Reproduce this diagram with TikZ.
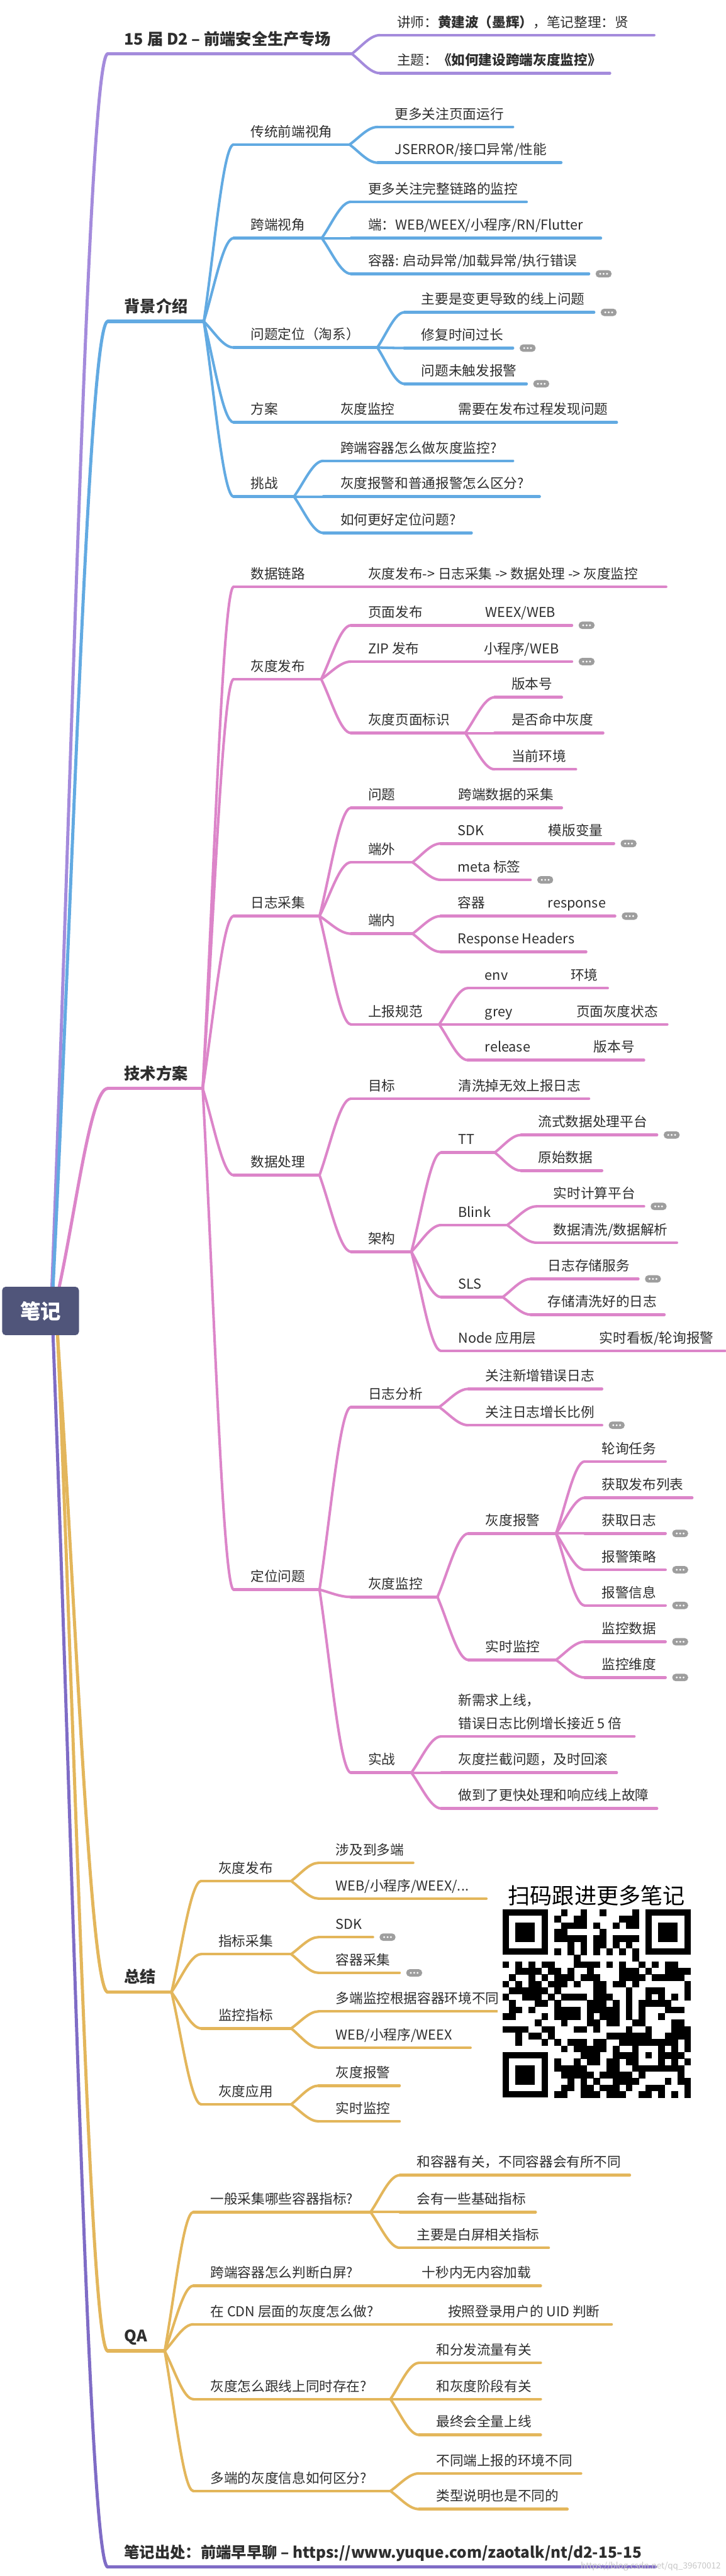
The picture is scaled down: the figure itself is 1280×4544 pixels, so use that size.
\documentclass[tikz,border=0pt]{standalone}
\usepackage{fontspec}
\newfontfamily\cjk{Noto Sans CJK SC}
\usetikzlibrary{calc}
\definecolor{cPur}{HTML}{A48BDC}
\definecolor{cBlu}{HTML}{62AAE2}
\definecolor{cPnk}{HTML}{DC85C9}
\definecolor{cYel}{HTML}{E3B65B}
\definecolor{cFoot}{HTML}{7F6CC6}
\definecolor{cRoot}{HTML}{50557A}
\definecolor{cTxt}{HTML}{2E2E2E}
\definecolor{cBadge}{HTML}{9E9E9E}
\tikzset{
 tp/.style={anchor=south west, inner xsep=0pt, inner ysep=8pt, text depth=6pt, text height=18pt, font=\cjk\fontsize{24}{41}\selectfont, text=cTxt},
 tpL/.style={tp, inner ysep=9pt, text depth=7pt, text height=21pt, font=\cjk\bfseries\fontsize{28}{34}\selectfont},
 ul/.style={line width=5pt, line cap=round},
 ulL/.style={line width=6pt, line cap=round},
 cn/.style={line width=4.5pt, line cap=round},
 badge/.style={fill=cBadge, rounded corners=6pt, minimum width=28pt, minimum height=13pt, inner sep=0pt},
}
% name x0 x1 y color text
\newcommand\tpc[6]{\node[tp] (#1) at (#2,#4) {\makebox[\dimexpr #3pt-#2pt\relax][l]{\hspace*{30pt}#6}};
 \draw[ul,#5] (#1.south west) -- (#1.south east);}
\newcommand\tpA[6]{\node[tpL] (#1) at (#2,#4) {\makebox[\dimexpr #3pt-#2pt\relax][l]{\hspace*{29pt}#6}};
 \draw[ulL,#5] (#1.south west) -- (#1.south east);}
\newcommand\cnx[3]{\draw[cn,#1] let \p1=(#2.south east),\p2=(#3.south west) in (\p1) .. controls ({\x1+0.35*(\x2-\x1)},{\y1+0.4*(\y2-\y1)}) and ({\x2-0.35*(\x2-\x1)},\y2) .. (\p2);}
\newcommand\rcx[3]{\draw[cn,line width=5.5pt,#1] let \p1=(#2),\p2=(#3.south west) in (\p1) .. controls ({\x1+0.35*(\x2-\x1)},{\y1+0.4*(\y2-\y1)}) and ({\x2-0.35*(\x2-\x1)},\y2) .. (\p2);}
\newcommand\bdg[1]{\node[badge] (#1-b) at ([xshift=26pt]#1.south east) {};
 \foreach \d in {-6,0,6} \fill[white] ([xshift=\d*1pt]#1-b.center) circle (1.8pt);}
\begin{document}
\begin{tikzpicture}[x=1pt,y=-1pt]
\path[use as bounding box, fill=white] (0,0) rectangle (1280,4544);

% root
\node[fill=cRoot, rounded corners=6pt, minimum width=135pt, minimum height=85pt, inner sep=0pt, text=white, font=\cjk\bfseries\fontsize{36}{40}\selectfont] (root) at (71.5,2312.5) {笔记};

% ---------------- header (purple)
\tpA{t15}{190}{620}{95}{cPur}{15 届 D2 – 前端安全生产专场}
\tpc{tjs}{670}{1153}{62}{cPur}{讲师：\textbf{黄建波（墨辉）}，笔记整理：贤}
\tpc{tzt}{670}{1075}{129}{cPur}{主题：\textbf{《如何建设跨端灰度监控》}}
\cnx{cPur}{t15}{tjs}\cnx{cPur}{t15}{tzt}

% ---------------- 背景介绍 (blue)
\tpA{bj}{190}{359}{567}{cBlu}{背景介绍}
\tpc{bj1}{412}{616}{255}{cBlu}{传统前端视角}
\tpc{bj11}{666}{904}{224}{cBlu}{更多关注页面运行}
\tpc{bj12}{666}{989}{287}{cBlu}{JSERROR/接口异常/性能}
\tpc{bj2}{412}{567}{420}{cBlu}{跨端视角}
\tpc{bj21}{619}{928}{356}{cBlu}{更多关注完整链路的监控}
\tpc{bj22}{619}{1059}{420}{cBlu}{端：WEB/WEEX/小程序/RN/Flutter}
\tpc{bj23}{619}{1038}{483}{cBlu}{容器: 启动异常/加载异常/执行错误}\bdg{bj23}
\tpc{bj3}{412}{665}{613}{cBlu}{问题定位（淘系）}
\tpc{bj31}{713}{1047}{551}{cBlu}{主要是变更导致的线上问题}\bdg{bj31}
\tpc{bj32}{713}{904}{614}{cBlu}{修复时间过长}\bdg{bj32}
\tpc{bj33}{713}{928}{677}{cBlu}{问题未触发报警}\bdg{bj33}
\tpc{bj4}{412}{570}{745}{cBlu}{方案}
\tpc{bj41}{570}{778}{745}{cBlu}{灰度监控}
\tpc{bj411}{778}{1087}{745}{cBlu}{需要在发布过程发现问题}
\tpc{bj5}{412}{518}{876}{cBlu}{挑战}
\tpc{bj51}{570}{904}{813}{cBlu}{跨端容器怎么做灰度监控?}
\tpc{bj52}{570}{951}{876}{cBlu}{灰度报警和普通报警怎么区分?}
\tpc{bj53}{570}{831}{940}{cBlu}{如何更好定位问题?}
\foreach \c in {bj1,bj2,bj3,bj4,bj5}{\cnx{cBlu}{bj}{\c}}
\cnx{cBlu}{bj1}{bj11}\cnx{cBlu}{bj1}{bj12}
\cnx{cBlu}{bj2}{bj21}\cnx{cBlu}{bj2}{bj22}\cnx{cBlu}{bj2}{bj23}
\cnx{cBlu}{bj3}{bj31}\cnx{cBlu}{bj3}{bj32}\cnx{cBlu}{bj3}{bj33}
\cnx{cBlu}{bj4}{bj41}\cnx{cBlu}{bj41}{bj411}
\cnx{cBlu}{bj5}{bj51}\cnx{cBlu}{bj5}{bj52}\cnx{cBlu}{bj5}{bj53}

% ---------------- 技术方案 (pink)
\tpA{js}{190}{357}{1920}{cPnk}{技术方案}
\tpc{js1}{412}{619}{1035}{cPnk}{数据链路}
\tpc{js11}{619}{1174}{1035}{cPnk}{灰度发布-> 日志采集 -> 数据处理 -> 灰度监控}
\tpc{js2}{412}{566}{1198}{cPnk}{灰度发布}
\tpc{js21}{619}{826}{1103}{cPnk}{页面发布}
\tpc{js211}{826}{1008}{1103}{cPnk}{WEEX/WEB}\bdg{js211}
\tpc{js22}{619}{823}{1167}{cPnk}{ZIP 发布}
\tpc{js221}{823}{1008}{1167}{cPnk}{小程序/WEB}\bdg{js221}
\tpc{js23}{619}{820}{1293}{cPnk}{灰度页面标识}
\tpc{js231}{872}{990}{1230}{cPnk}{版本号}
\tpc{js232}{872}{1063}{1293}{cPnk}{是否命中灰度}
\tpc{js233}{872}{1015}{1357}{cPnk}{当前环境}
\tpc{js3}{412}{563}{1616}{cPnk}{日志采集}
\tpc{js31}{619}{778}{1425}{cPnk}{问题}
\tpc{js311}{778}{990}{1425}{cPnk}{跨端数据的采集}
\tpc{js32}{619}{727}{1521}{cPnk}{端外}
\tpc{js321}{777}{937}{1488}{cPnk}{SDK}
\tpc{js3211}{937}{1082}{1488}{cPnk}{模版变量}\bdg{js3211}
\tpc{js322}{777}{935}{1552}{cPnk}{meta 标签}\bdg{js322}
\tpc{js33}{619}{727}{1647}{cPnk}{端内}
\tpc{js331}{777}{936}{1616}{cPnk}{容器}
\tpc{js3311}{936}{1084}{1616}{cPnk}{response}\bdg{js3311}
\tpc{js332}{777}{1033}{1679}{cPnk}{Response Headers}
\tpc{js34}{619}{774}{1807}{cPnk}{上报规范}
\tpc{js341}{825}{976}{1743}{cPnk}{env}
\tpc{js3411}{976}{1071}{1743}{cPnk}{环境}
\tpc{js342}{825}{986}{1807}{cPnk}{grey}
\tpc{js3421}{986}{1176}{1807}{cPnk}{页面灰度状态}
\tpc{js343}{825}{1017}{1870}{cPnk}{release}
\tpc{js3431}{1017}{1135}{1870}{cPnk}{版本号}
\tpc{js4}{412}{563}{2073}{cPnk}{数据处理}
\tpc{js41}{619}{778}{1938}{cPnk}{目标}
\tpc{js411}{778}{1038}{1938}{cPnk}{清洗掉无效上报日志}
\tpc{js42}{619}{725}{2208}{cPnk}{架构}
\tpc{js421}{778}{872}{2033}{cPnk}{TT}
\tpc{js4211}{919}{1158}{2002}{cPnk}{流式数据处理平台}\bdg{js4211}
\tpc{js4212}{919}{1061}{2065}{cPnk}{原始数据}
\tpc{js422}{778}{894}{2161}{cPnk}{Blink}
\tpc{js4221}{946}{1135}{2128}{cPnk}{实时计算平台}\bdg{js4221}
\tpc{js4222}{946}{1193}{2192}{cPnk}{数据清洗/数据解析}
\tpc{js423}{778}{886}{2288}{cPnk}{SLS}
\tpc{js4231}{936}{1125}{2256}{cPnk}{日志存储服务}\bdg{js4231}
\tpc{js4232}{936}{1171}{2319}{cPnk}{存储清洗好的日志}
\tpc{js424}{778}{1027}{2383}{cPnk}{Node 应用层}
\tpc{js4241}{1027}{1278}{2383}{cPnk}{实时看板/轮询报警}
\tpc{js5}{412}{563}{2804}{cPnk}{定位问题}
\tpc{js51}{619}{774}{2482}{cPnk}{日志分析}
\tpc{js511}{826}{1061}{2450}{cPnk}{关注新增错误日志}
\tpc{js512}{826}{1061}{2514}{cPnk}{关注日志增长比例}\bdg{js512}
\tpc{js52}{619}{771}{2817}{cPnk}{灰度监控}
\tpc{js521}{826}{980}{2705}{cPnk}{灰度报警}
\tpc{js5211}{1031}{1173}{2578}{cPnk}{轮询任务}
\tpc{js5212}{1031}{1220}{2642}{cPnk}{获取发布列表}
\tpc{js5213}{1031}{1173}{2705}{cPnk}{获取日志}\bdg{js5213}
\tpc{js5214}{1031}{1173}{2769}{cPnk}{报警策略}\bdg{js5214}
\tpc{js5215}{1031}{1173}{2832}{cPnk}{报警信息}\bdg{js5215}
\tpc{js522}{826}{980}{2928}{cPnk}{实时监控}
\tpc{js5221}{1031}{1173}{2896}{cPnk}{监控数据}\bdg{js5221}
\tpc{js5222}{1031}{1173}{2959}{cPnk}{监控维度}\bdg{js5222}
\tpc{js53}{619}{725}{3127}{cPnk}{实战}
\tpc{js531}{778}{1118}{3063}{cPnk}{\begin{tabular}[b]{@{}l@{}}新需求上线，\\错误日志比例增长接近 5 倍\end{tabular}}
\tpc{js532}{778}{1087}{3127}{cPnk}{灰度拦截问题，及时回滚}
\tpc{js533}{778}{1158}{3190}{cPnk}{做到了更快处理和响应线上故障}
\foreach \c in {js1,js2,js3,js4,js5}{\cnx{cPnk}{js}{\c}}
\cnx{cPnk}{js1}{js11}
\foreach \c in {js21,js22,js23}{\cnx{cPnk}{js2}{\c}}
\cnx{cPnk}{js21}{js211}\cnx{cPnk}{js22}{js221}
\foreach \c in {js231,js232,js233}{\cnx{cPnk}{js23}{\c}}
\foreach \c in {js31,js32,js33,js34}{\cnx{cPnk}{js3}{\c}}
\cnx{cPnk}{js31}{js311}
\cnx{cPnk}{js32}{js321}\cnx{cPnk}{js32}{js322}\cnx{cPnk}{js321}{js3211}
\cnx{cPnk}{js33}{js331}\cnx{cPnk}{js33}{js332}\cnx{cPnk}{js331}{js3311}
\foreach \c in {js341,js342,js343}{\cnx{cPnk}{js34}{\c}}
\cnx{cPnk}{js341}{js3411}\cnx{cPnk}{js342}{js3421}\cnx{cPnk}{js343}{js3431}
\cnx{cPnk}{js4}{js41}\cnx{cPnk}{js4}{js42}\cnx{cPnk}{js41}{js411}
\foreach \c in {js421,js422,js423,js424}{\cnx{cPnk}{js42}{\c}}
\cnx{cPnk}{js421}{js4211}\cnx{cPnk}{js421}{js4212}
\cnx{cPnk}{js422}{js4221}\cnx{cPnk}{js422}{js4222}
\cnx{cPnk}{js423}{js4231}\cnx{cPnk}{js423}{js4232}
\cnx{cPnk}{js424}{js4241}
\foreach \c in {js51,js52,js53}{\cnx{cPnk}{js5}{\c}}
\cnx{cPnk}{js51}{js511}\cnx{cPnk}{js51}{js512}
\cnx{cPnk}{js52}{js521}\cnx{cPnk}{js52}{js522}
\foreach \c in {js5211,js5212,js5213,js5214,js5215}{\cnx{cPnk}{js521}{\c}}
\cnx{cPnk}{js522}{js5221}\cnx{cPnk}{js522}{js5222}
\foreach \c in {js531,js532,js533}{\cnx{cPnk}{js53}{\c}}

% ---------------- 总结 (yellow)
\tpA{zj}{190}{302}{3514}{cYel}{总结}
\tpc{zj1}{355}{513}{3318}{cYel}{灰度发布}
\tpc{zj11}{562}{728}{3286}{cYel}{涉及到多端}
\tpc{zj12}{562}{857}{3349}{cYel}{WEB/小程序/WEEX/...}
\tpc{zj2}{355}{513}{3447}{cYel}{指标采集}
\tpc{zj21}{562}{657}{3417}{cYel}{SDK}\bdg{zj21}
\tpc{zj22}{562}{704}{3480}{cYel}{容器采集}\bdg{zj22}
\tpc{zj3}{355}{513}{3578}{cYel}{监控指标}
\tpc{zj31}{562}{886}{3548}{cYel}{多端监控根据容器环境不同，}
\tpc{zj32}{562}{829}{3612}{cYel}{WEB/小程序/WEEX}
\tpc{zj4}{355}{513}{3712}{cYel}{灰度应用}
\tpc{zj41}{562}{704}{3679}{cYel}{灰度报警}
\tpc{zj42}{562}{704}{3742}{cYel}{实时监控}
\foreach \c in {zj1,zj2,zj3,zj4}{\cnx{cYel}{zj}{\c}}
\cnx{cYel}{zj1}{zj11}\cnx{cYel}{zj1}{zj12}
\cnx{cYel}{zj2}{zj21}\cnx{cYel}{zj2}{zj22}
\cnx{cYel}{zj3}{zj31}\cnx{cYel}{zj3}{zj32}
\cnx{cYel}{zj4}{zj41}\cnx{cYel}{zj4}{zj42}

% ---------------- QA (yellow)
\tpA{qa}{190}{290}{4147}{cYel}{QA}
\tpc{qa1}{341}{653}{3902}{cYel}{一般采集哪些容器指标?}
\tpc{qa11}{705}{1110}{3837}{cYel}{和容器有关，不同容器会有所不同}
\tpc{qa12}{705}{944}{3902}{cYel}{会有一些基础指标}
\tpc{qa13}{705}{967}{3965}{cYel}{主要是白屏相关指标}
\tpc{qa2}{341}{714}{4032}{cYel}{跨端容器怎么判断白屏?}
\tpc{qa21}{714}{953}{4032}{cYel}{十秒内无内容加载}
\tpc{qa3}{341}{760}{4100}{cYel}{在 CDN 层面的灰度怎么做?}
\tpc{qa31}{760}{1078}{4100}{cYel}{按照登录用户的 UID 判断}
\tpc{qa4}{341}{688}{4232}{cYel}{灰度怎么跟线上同时存在?}
\tpc{qa41}{739}{953}{4168}{cYel}{和分发流量有关}
\tpc{qa42}{739}{953}{4232}{cYel}{和灰度阶段有关}
\tpc{qa43}{739}{953}{4295}{cYel}{最终会全量上线}
\tpc{qa5}{341}{688}{4394}{cYel}{多端的灰度信息如何区分?}
\tpc{qa51}{739}{1024}{4363}{cYel}{不同端上报的环境不同}
\tpc{qa52}{739}{1000}{4426}{cYel}{类型说明也是不同的}
\foreach \c in {qa1,qa2,qa3,qa4,qa5}{\cnx{cYel}{qa}{\c}}
\foreach \c in {qa11,qa12,qa13}{\cnx{cYel}{qa1}{\c}}
\cnx{cYel}{qa2}{qa21}\cnx{cYel}{qa3}{qa31}
\foreach \c in {qa41,qa42,qa43}{\cnx{cYel}{qa4}{\c}}
\cnx{cYel}{qa5}{qa51}\cnx{cYel}{qa5}{qa52}

% ---------------- footer
\tpA{ft}{190}{1155}{4528}{cFoot}{\fontsize{27}{34}\selectfont 笔记出处：前端早早聊 – https://www.yuque.com/zaotalk/nt/d2-15-15}

% ---------------- root connectors
\rcx{cPur}{[xshift=20pt]root.north}{t15}
\rcx{cBlu}{[xshift=22pt]root.north}{bj}
\rcx{cPnk}{[xshift=33pt]root.north}{js}
\rcx{cYel}{[xshift=30pt]root.south}{zj}
\rcx{cYel}{[xshift=30pt]root.south}{qa}
\rcx{cFoot}{[xshift=22pt]root.south}{ft}
\node[fill=cRoot, rounded corners=6pt, minimum width=135pt, minimum height=85pt, inner sep=0pt, text=white, font=\cjk\bfseries\fontsize{36}{40}\selectfont] (rootb) at (root.center) {笔记};

% ---------------- QR
\node[font=\cjk\fontsize{39}{44}\selectfont, text=black, inner sep=0pt] (qrt) at (1052,3344) {扫码跟进更多笔记};
\fill[white] (878,3362) rectangle (1226,3708);
\def\qx{886}\def\qy{3368}\def\qm{11.45}
\pgfmathsetseed{4242}
\foreach \i in {0,...,28}{\foreach \j in {0,...,28}{%
 \pgfmathtruncatemacro\rsv{((\i<8)&&(\j<8))||((\i>20)&&(\j<8))||((\i<8)&&(\j>20))||(\i==6)||(\j==6)||((\i>19)&&(\i<25)&&(\j>19)&&(\j<25))}%
 \pgfmathrandominteger{\rr}{0}{99}%
 \ifnum\rsv=0 \ifnum\rr<50 \fill[black] ({\qx+\i*\qm},{\qy+\j*\qm}) rectangle ++(\qm+0.4,\qm+0.4);\fi\fi
}}
\foreach \k in {8,10,...,20}{\fill[black] ({\qx+\k*\qm},{\qy+6*\qm}) rectangle ++(\qm+0.4,\qm+0.4);
 \fill[black] ({\qx+6*\qm},{\qy+\k*\qm}) rectangle ++(\qm+0.4,\qm+0.4);}
\foreach \fx/\fy in {0/0,22/0,0/22}{
 \fill[black] ({\qx+\fx*\qm},{\qy+\fy*\qm}) rectangle ++(7*\qm,7*\qm);
 \fill[white] ({\qx+(\fx+1)*\qm},{\qy+(\fy+1)*\qm}) rectangle ++(5*\qm,5*\qm);
 \fill[black] ({\qx+(\fx+2)*\qm},{\qy+(\fy+2)*\qm}) rectangle ++(3*\qm,3*\qm);}
\fill[black] ({\qx+20*\qm},{\qy+20*\qm}) rectangle ++(5*\qm,5*\qm);
\fill[white] ({\qx+21*\qm},{\qy+21*\qm}) rectangle ++(3*\qm,3*\qm);
\fill[black] ({\qx+22*\qm},{\qy+22*\qm}) rectangle ++(\qm,\qm);

% watermark
\node[anchor=base west, inner sep=0pt, text=black!22, font=\cjk\fontsize{15}{16}\selectfont] (wm) at (1024,4531) {https://blog.csdn.net/qq\_39670012};
\end{tikzpicture}
\end{document}
